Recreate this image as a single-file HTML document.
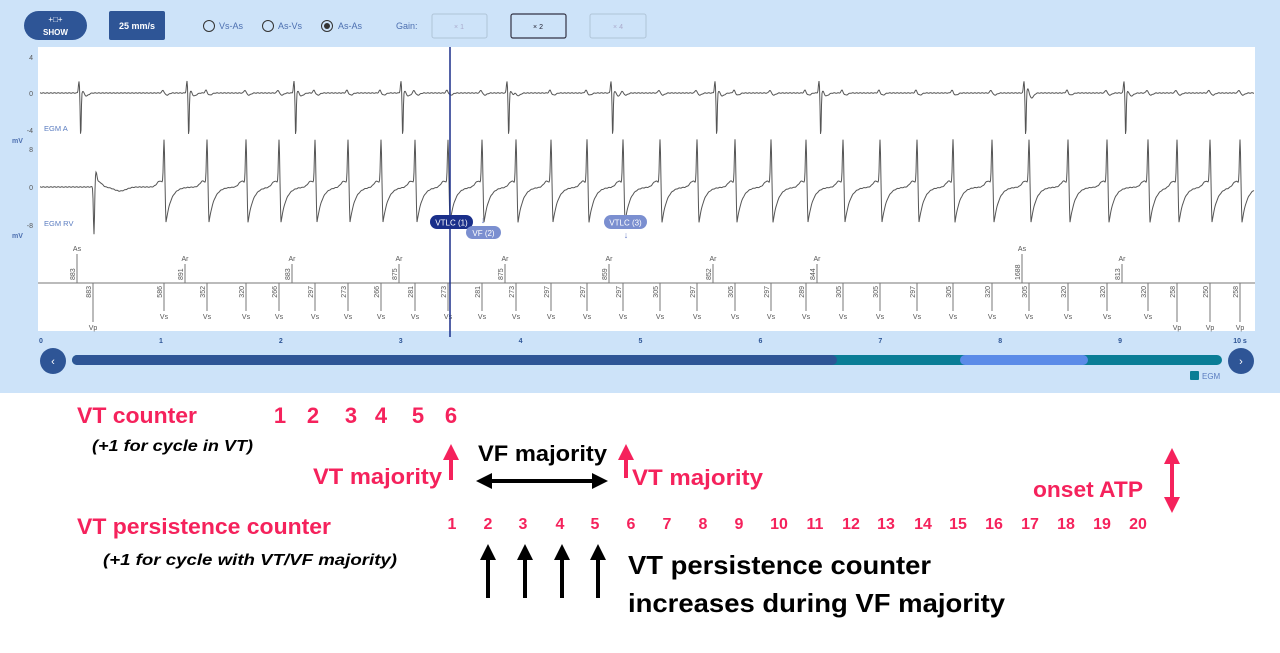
<!DOCTYPE html>
<html><head><meta charset="utf-8"><style>
html,body{margin:0;padding:0;background:#fff;width:1280px;height:653px;overflow:hidden}
svg{display:block}
.t{font-family:"Liberation Sans",sans-serif}
.r{fill:#f5225c;font-weight:bold}
.k{fill:#000;font-weight:bold}
.s{font-family:"Liberation Sans",sans-serif;font-size:7px;fill:#555}
</style></head><body>
<svg id="s" width="1280" height="653" xmlns="http://www.w3.org/2000/svg">
<defs>
<marker id="ar" markerWidth="4" markerHeight="4" refX="2" refY="2" orient="auto" markerUnits="strokeWidth"><path d="M0,0 L4,2 L0,4 z" fill="#f5225c"/></marker>
<marker id="ak" markerWidth="4" markerHeight="4" refX="2" refY="2" orient="auto" markerUnits="strokeWidth"><path d="M0,0 L4,2 L0,4 z" fill="#000"/></marker>
</defs>
<rect x="0" y="0" width="1280" height="393" fill="#cde3f9"/>
<rect x="38" y="47" width="1217" height="284" fill="#fff"/>
<rect x="24" y="11" width="63" height="29" rx="14.5" fill="#2e5596"/>
<text x="55.5" y="22" class="t" font-size="8" fill="#fff" text-anchor="middle">+□+</text>
<text x="55.5" y="35" class="t" font-size="8" font-weight="bold" fill="#fff" text-anchor="middle">SHOW</text>
<rect x="109" y="11" width="56" height="29" rx="2" fill="#2e5596"/>
<text x="137" y="29" class="t" font-size="9" font-weight="bold" fill="#fff" text-anchor="middle">25 mm/s</text>
<g class="t" font-size="9" fill="#4c6fb0">
<circle cx="209" cy="26" r="5.5" fill="none" stroke="#333" stroke-width="1"/><text x="219" y="29">Vs-As</text>
<circle cx="268" cy="26" r="5.5" fill="none" stroke="#333" stroke-width="1"/><text x="278" y="29">As-Vs</text>
<circle cx="327" cy="26" r="5.5" fill="none" stroke="#333" stroke-width="1"/><circle cx="327" cy="26" r="3" fill="#333"/><text x="338" y="29">As-As</text>
<text x="396" y="29">Gain:</text>
</g>
<rect x="432" y="14" width="55" height="24" rx="2" fill="none" stroke="#b0c4d8"/>
<text x="459" y="29" class="t" font-size="7" fill="#aac" text-anchor="middle">× 1</text>
<rect x="511" y="14" width="55" height="24" rx="2" fill="none" stroke="#334" stroke-width="1.2"/>
<text x="538" y="29" class="t" font-size="7" fill="#223" text-anchor="middle">× 2</text>
<rect x="590" y="14" width="56" height="24" rx="2" fill="none" stroke="#b0c4d8"/>
<text x="618" y="29" class="t" font-size="7" fill="#aac" text-anchor="middle">× 4</text>
<g class="t" font-size="7" fill="#555" text-anchor="end">
<text x="33" y="60">4</text><text x="33" y="96">0</text><text x="33" y="133">-4</text>
<text x="33" y="152">8</text><text x="33" y="190">0</text><text x="33" y="228">-8</text>
</g>
<g class="t" font-size="7" font-weight="bold" fill="#4c6fb0"><text x="12" y="143">mV</text><text x="12" y="238">mV</text></g>
<g class="t" font-size="7.5" fill="#5a7cc0"><text x="44" y="131">EGM A</text><text x="44" y="226">EGM RV</text></g>
<g id="waves"></g>
<g id="marks"></g>
<line x1="450" y1="47" x2="450" y2="337" stroke="#1a2f8a" stroke-width="1.5"/>
<rect x="430" y="215" width="43" height="14" rx="7" fill="#1a2f8a"/>
<text x="451.5" y="225.5" class="t" font-size="8" fill="#fff" text-anchor="middle">VTLC (1)</text>
<rect x="466" y="226" width="35" height="13" rx="6.5" fill="#7b8fd0"/>
<text x="483.5" y="236" class="t" font-size="8" fill="#fff" text-anchor="middle">VF (2)</text>
<text x="483" y="223" class="t" font-size="9" fill="#6a7ec8" text-anchor="middle">↓</text>
<rect x="604" y="215" width="43" height="14" rx="7" fill="#7b8fd0"/>
<text x="625.5" y="225.5" class="t" font-size="8" fill="#fff" text-anchor="middle">VTLC (3)</text>
<text x="626" y="238" class="t" font-size="9" fill="#6a7ec8" text-anchor="middle">↓</text>
<g class="t" font-size="7" font-weight="bold" fill="#2e5596" text-anchor="middle" id="tx"></g>
<rect x="72" y="355" width="1150" height="10" rx="5" fill="#0a7d96"/>
<rect x="72" y="355" width="765" height="10" rx="5" fill="#2e5596"/>
<rect x="960" y="355" width="128" height="10" rx="5" fill="#5b8be8"/>
<circle cx="53" cy="361" r="13" fill="#2e5596"/><text x="53" y="365" class="t" font-size="11" fill="#fff" text-anchor="middle">‹</text>
<circle cx="1241" cy="361" r="13" fill="#2e5596"/><text x="1241" y="365" class="t" font-size="11" fill="#fff" text-anchor="middle">›</text>
<rect x="1190" y="371" width="9" height="9" rx="1" fill="#0a7d96"/>
<text x="1202" y="379" class="t" font-size="8" fill="#5a7cc0">EGM</text>
<g class="t">
<text x="77" y="423" class="r" font-size="22" textLength="120" lengthAdjust="spacingAndGlyphs">VT counter</text>
<g class="r" font-size="22" text-anchor="middle"><text x="280" y="423">1</text><text x="313" y="423">2</text><text x="351" y="423">3</text><text x="381" y="423">4</text><text x="418" y="423">5</text><text x="451" y="423">6</text></g>
<text x="92" y="451" class="k" font-style="italic" font-size="16" textLength="161" lengthAdjust="spacingAndGlyphs">(+1 for cycle in VT)</text>
<text x="313" y="484" class="r" font-size="22" textLength="129" lengthAdjust="spacingAndGlyphs">VT majority</text>
<text x="478" y="461" class="k" font-size="22" textLength="129" lengthAdjust="spacingAndGlyphs">VF majority</text>
<text x="632" y="485" class="r" font-size="22" textLength="131" lengthAdjust="spacingAndGlyphs">VT majority</text>
<text x="1033" y="497" class="r" font-size="22" textLength="110" lengthAdjust="spacingAndGlyphs">onset ATP</text>
<text x="77" y="534" class="r" font-size="22" textLength="254" lengthAdjust="spacingAndGlyphs">VT persistence counter</text>
<text x="103" y="565" class="k" font-style="italic" font-size="16" textLength="294" lengthAdjust="spacingAndGlyphs">(+1 for cycle with VT/VF majority)</text>
<g class="r" font-size="16" text-anchor="middle" id="pc"></g>
<text x="628" y="574" class="k" font-size="26" textLength="303" lengthAdjust="spacingAndGlyphs">VT persistence counter</text>
<text x="628" y="612" class="k" font-size="26" textLength="377" lengthAdjust="spacingAndGlyphs">increases during VF majority</text>
</g>
<line x1="451" y1="480" x2="451" y2="452" stroke="#f5225c" stroke-width="4" marker-end="url(#ar)"/>
<line x1="626" y1="478" x2="626" y2="452" stroke="#f5225c" stroke-width="4" marker-end="url(#ar)"/>
<line x1="1172" y1="470" x2="1172" y2="456" stroke="#f5225c" stroke-width="4" marker-end="url(#ar)"/>
<line x1="1172" y1="490" x2="1172" y2="505" stroke="#f5225c" stroke-width="4" marker-end="url(#ar)"/>
<line x1="1172" y1="468" x2="1172" y2="492" stroke="#f5225c" stroke-width="4"/>
<line x1="540" y1="481" x2="484" y2="481" stroke="#000" stroke-width="4" marker-end="url(#ak)"/>
<line x1="540" y1="481" x2="600" y2="481" stroke="#000" stroke-width="4" marker-end="url(#ak)"/>
<g id="ka"></g>
</svg>
<script>
var NS="http://www.w3.org/2000/svg";
function el(p,t,a,txt){var e=document.createElementNS(NS,t);for(var k in a)e.setAttribute(k,a[k]);if(txt!=null)e.textContent=txt;document.getElementById(p).appendChild(e);return e;}
var V=[[93,883,'Vp'],[164,586,'Vs'],[207,352,'Vs'],[246,320,'Vs'],[279,266,'Vs'],[315,297,'Vs'],[348,273,'Vs'],[381,266,'Vs'],[415,281,'Vs'],[448,273,'Vs'],[482,281,'Vs'],[516,273,'Vs'],[551,297,'Vs'],[587,297,'Vs'],[623,297,'Vs'],[660,305,'Vs'],[697,297,'Vs'],[735,305,'Vs'],[771,297,'Vs'],[806,289,'Vs'],[843,305,'Vs'],[880,305,'Vs'],[917,297,'Vs'],[953,305,'Vs'],[992,320,'Vs'],[1029,305,'Vs'],[1068,320,'Vs'],[1107,320,'Vs'],[1148,320,'Vs'],[1177,258,'Vp'],[1210,250,'Vp'],[1240,258,'Vp']];
var A=[[77,883,'As'],[185,891,'Ar'],[292,883,'Ar'],[399,875,'Ar'],[505,875,'Ar'],[609,859,'Ar'],[713,852,'Ar'],[817,844,'Ar'],[1022,1688,'As'],[1122,813,'Ar']];
var B=283;
el('marks','line',{x1:38,y1:B,x2:1255,y2:B,stroke:'#777','stroke-width':1});
A.forEach(function(a){var top=a[2]=='As'?254:264;el('marks','line',{x1:a[0],y1:top,x2:a[0],y2:B,stroke:'#777'});
el('marks','text',{x:a[0],y:top-3,'class':'s','text-anchor':'middle'},a[2]);
el('marks','text',{x:0,y:0,'class':'s',transform:'translate('+(a[0]-2)+','+(B-3)+') rotate(-90)'},a[1]);});
V.forEach(function(v){var bot=v[2]=='Vp'?322:311;el('marks','line',{x1:v[0],y1:B,x2:v[0],y2:bot,stroke:'#777'});
el('marks','text',{x:v[0],y:bot+8,'class':'s','text-anchor':'middle'},v[2]);
el('marks','text',{x:0,y:0,'class':'s','text-anchor':'end',transform:'translate('+(v[0]-2)+','+(B+3)+') rotate(-90)'},v[1]);});
function wave(base,fn){var d='';for(var x=40;x<=1254;x+=0.5){var y=base+fn(x)+(Math.sin(x*1.7)*0.25);d+=(x==40?'M':'L')+x.toFixed(1)+','+y.toFixed(1);}return d;}
function ga(x,c,w){return Math.exp(-((x-c)*(x-c))/(2*w*w));}
var ax=A.map(function(a){return a[0]+3;});
var vx=V.map(function(v){return v[0];});
el('waves','path',{d:wave(93,function(x){var y=0;ax.forEach(function(c){y+=-12*ga(x,c-1,0.6)+45*ga(x,c+0.7,0.5)+3*ga(x,c+6,2.5)-3*ga(x,c+3,1.2);});
vx.forEach(function(c,i){if(i>0)y+=-3*ga(x,c-1,1)+2*ga(x,c+3,2);});return y;}),fill:'none',stroke:'#555','stroke-width':1});
el('waves','path',{d:wave(187,function(x){var y=0;
vx.forEach(function(c,i){if(i==0){y+=-12*ga(x,c+3,1)+50*ga(x,c+1,0.6)-5*ga(x,c+6,3);return;}
var nxt=vx[i+1]||c+34;y+=-45*ga(x,c,0.6);if(x>c+0.8&&x<nxt){var dx=x-c-0.8;y+=46*Math.exp(-dx/5)*(dx<1.2?dx/1.2:1);}
y+=-6*ga(x,c-4,3);});
y+=4*ga(x,120,6);return y;}),fill:'none',stroke:'#555','stroke-width':1});
for(var i=0;i<=10;i++)el('tx','text',{x:41+i*119.9,y:343},i==10?'10 s':i);
var px=[452,488,523,560,595,631,667,703,739,779,815,851,886,923,958,994,1030,1066,1102,1138];
px.forEach(function(x,i){el('pc','text',{x:x,y:529},i+1);});
[488,525,562,598].forEach(function(x){el('ka','line',{x1:x,y1:598,x2:x,y2:552,stroke:'#000','stroke-width':4,'marker-end':'url(#ak)'});});
</script>
</body></html>
